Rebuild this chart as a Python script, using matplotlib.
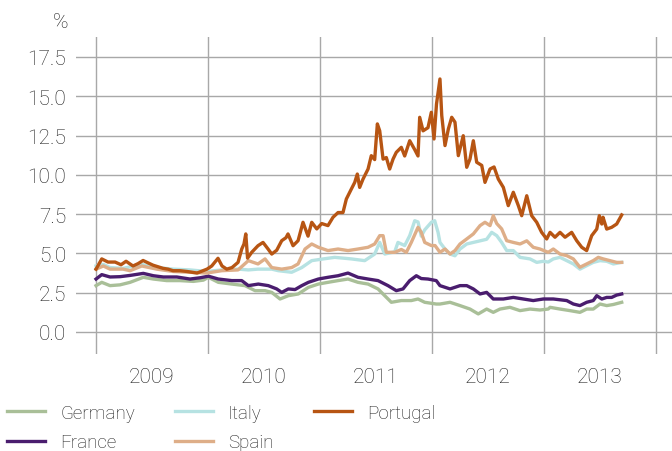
import matplotlib
matplotlib.use("Agg")
import matplotlib.pyplot as plt

plt.rcParams["font.family"] = ["Roboto", "DejaVu Sans"]

# ---- data (decimal year, % yield) ----
pt_t = [2009.000, 2009.051, 2009.107, 2009.170, 2009.223, 2009.268, 2009.330, 2009.375,
        2009.420, 2009.464, 2009.509, 2009.554, 2009.598, 2009.643, 2009.688, 2009.750,
        2009.813, 2009.857, 2009.902, 2009.955, 2009.991, 2010.033, 2010.089, 2010.125,
        2010.167, 2010.214, 2010.268, 2010.301, 2010.321, 2010.337, 2010.353, 2010.390,
        2010.446, 2010.491, 2010.536, 2010.569, 2010.613, 2010.658, 2010.696, 2010.714,
        2010.759, 2010.804, 2010.848, 2010.893, 2010.926, 2010.971, 2011.015, 2011.071,
        2011.116, 2011.161, 2011.205, 2011.235, 2011.280, 2011.310, 2011.333, 2011.354,
        2011.384, 2011.429, 2011.458, 2011.488, 2011.512, 2011.533, 2011.563, 2011.592,
        2011.622, 2011.652, 2011.681, 2011.726, 2011.756, 2011.801, 2011.846, 2011.875,
        2011.890, 2011.920, 2011.964, 2011.994, 2012.018, 2012.040, 2012.071, 2012.087,
        2012.116, 2012.146, 2012.176, 2012.205, 2012.235, 2012.279, 2012.310, 2012.339,
        2012.369, 2012.399, 2012.444, 2012.473, 2012.518, 2012.554, 2012.592, 2012.637,
        2012.681, 2012.726, 2012.771, 2012.801, 2012.846, 2012.890, 2012.935, 2012.979,
        2013.024, 2013.054, 2013.098, 2013.143, 2013.188, 2013.247, 2013.292, 2013.337,
        2013.381, 2013.426, 2013.471, 2013.494, 2013.516, 2013.527, 2013.560, 2013.604,
        2013.649, 2013.694]
portugal = [4.00, 4.65, 4.45, 4.45, 4.28, 4.50, 4.20, 4.35,
            4.55, 4.40, 4.25, 4.15, 4.05, 4.00, 3.90, 3.90,
            3.85, 3.80, 3.75, 3.90, 4.00, 4.20, 4.69, 4.20,
            4.00, 4.10, 4.43, 5.28, 5.60, 6.24, 4.70, 5.07,
            5.49, 5.70, 5.28, 4.96, 5.20, 5.81, 6.00, 6.24,
            5.49, 5.81, 6.98, 6.10, 6.98, 6.56, 6.90, 6.77,
            7.30, 7.60, 7.60, 8.46, 9.10, 9.52, 10.05, 9.20,
            9.73, 10.37, 11.22, 10.97, 13.24, 12.80, 11.00, 11.10,
            10.37, 11.00, 11.43, 11.75, 11.20, 12.17, 11.60, 11.20,
            13.66, 12.80, 13.00, 13.98, 12.28, 14.50, 16.10, 13.77,
            11.86, 12.92, 13.66, 13.35, 11.22, 12.49, 10.48, 11.00,
            12.17, 10.80, 10.60, 9.52, 10.37, 10.50, 9.73, 9.20,
            8.04, 8.89, 8.04, 7.40, 8.67, 7.40, 6.98, 6.34,
            5.92, 6.34, 6.03, 6.34, 6.03, 6.34, 5.81, 5.39,
            5.18, 6.13, 6.55, 7.40, 6.87, 7.30, 6.55, 6.66,
            6.87, 7.45]

es_t = [2009.000, 2009.065, 2009.125, 2009.241, 2009.304, 2009.408, 2009.542, 2009.688,
        2009.839, 2009.988, 2010.122, 2010.268, 2010.360, 2010.446, 2010.509, 2010.569,
        2010.658, 2010.747, 2010.804, 2010.866, 2010.926, 2010.982, 2011.071, 2011.161,
        2011.250, 2011.339, 2011.429, 2011.488, 2011.533, 2011.563, 2011.592, 2011.667,
        2011.726, 2011.771, 2011.815, 2011.875, 2011.904, 2011.935, 2011.994, 2012.027,
        2012.071, 2012.116, 2012.161, 2012.205, 2012.250, 2012.310, 2012.369, 2012.429,
        2012.473, 2012.518, 2012.547, 2012.578, 2012.622, 2012.667, 2012.726, 2012.786,
        2012.846, 2012.904, 2012.964, 2013.038, 2013.083, 2013.143, 2013.203, 2013.262,
        2013.321, 2013.381, 2013.440, 2013.485, 2013.529, 2013.589, 2013.649, 2013.694]
spain = [4.00, 4.20, 4.00, 4.00, 3.90, 4.20, 4.00, 3.85,
         3.80, 3.75, 3.90, 3.95, 4.54, 4.33, 4.65, 4.10,
         4.00, 4.10, 4.33, 5.28, 5.60, 5.40, 5.18, 5.28,
         5.18, 5.28, 5.39, 5.60, 6.13, 6.13, 5.07, 5.07,
         5.25, 5.07, 5.70, 6.66, 6.34, 5.70, 5.50, 5.50,
         5.07, 5.28, 4.96, 5.18, 5.60, 5.92, 6.24, 6.77,
         6.98, 6.77, 7.40, 6.90, 6.56, 5.81, 5.70, 5.60,
         5.80, 5.39, 5.28, 5.07, 5.28, 4.96, 4.86, 4.65,
         4.12, 4.33, 4.54, 4.75, 4.65, 4.54, 4.43, 4.43]

it_t = [2009.000, 2009.065, 2009.125, 2009.241, 2009.408, 2009.542, 2009.688, 2009.839,
        2009.988, 2010.122, 2010.268, 2010.360, 2010.446, 2010.569, 2010.628, 2010.747,
        2010.837, 2010.926, 2011.029, 2011.131, 2011.280, 2011.399, 2011.488, 2011.533,
        2011.578, 2011.667, 2011.696, 2011.756, 2011.801, 2011.846, 2011.875, 2011.904,
        2011.935, 2011.994, 2012.024, 2012.054, 2012.071, 2012.116, 2012.161, 2012.205,
        2012.250, 2012.310, 2012.369, 2012.429, 2012.488, 2012.533, 2012.578, 2012.622,
        2012.667, 2012.726, 2012.786, 2012.875, 2012.935, 2012.994, 2013.038, 2013.083,
        2013.143, 2013.203, 2013.262, 2013.321, 2013.381, 2013.440, 2013.500, 2013.560,
        2013.619, 2013.694]
italy = [4.20, 4.30, 4.10, 4.05, 4.30, 4.10, 4.00, 3.95,
         3.85, 3.95, 4.00, 3.95, 4.00, 4.00, 3.90, 3.80,
         4.10, 4.54, 4.65, 4.75, 4.65, 4.54, 4.96, 5.70,
         4.96, 5.10, 5.70, 5.50, 6.13, 7.08, 7.00, 6.10,
         6.50, 6.98, 7.08, 6.34, 5.70, 5.28, 4.96, 4.85,
         5.28, 5.60, 5.70, 5.80, 5.90, 6.34, 6.13, 5.70,
         5.18, 5.18, 4.75, 4.65, 4.43, 4.50, 4.45, 4.65,
         4.75, 4.54, 4.33, 4.00, 4.22, 4.43, 4.54, 4.50,
         4.33, 4.43]

fr_t = [2009.000, 2009.051, 2009.125, 2009.214, 2009.304, 2009.422, 2009.512, 2009.601,
        2009.721, 2009.839, 2009.929, 2010.003, 2010.092, 2010.212, 2010.301, 2010.360,
        2010.449, 2010.538, 2010.613, 2010.658, 2010.717, 2010.777, 2010.837, 2010.896,
        2010.985, 2011.071, 2011.161, 2011.250, 2011.339, 2011.429, 2011.518, 2011.607,
        2011.681, 2011.741, 2011.801, 2011.860, 2011.904, 2011.964, 2012.038, 2012.071,
        2012.161, 2012.250, 2012.310, 2012.369, 2012.429, 2012.488, 2012.547, 2012.637,
        2012.726, 2012.815, 2012.904, 2012.994, 2013.083, 2013.143, 2013.203, 2013.262,
        2013.321, 2013.381, 2013.440, 2013.471, 2013.516, 2013.560, 2013.604, 2013.649,
        2013.694]
france = [3.37, 3.65, 3.50, 3.52, 3.60, 3.73, 3.58, 3.50,
          3.50, 3.37, 3.45, 3.55, 3.37, 3.27, 3.27, 2.95,
          3.05, 2.95, 2.74, 2.52, 2.74, 2.70, 2.95, 3.16,
          3.37, 3.48, 3.58, 3.75, 3.48, 3.37, 3.27, 2.95,
          2.63, 2.74, 3.27, 3.58, 3.40, 3.37, 3.27, 2.95,
          2.74, 2.95, 2.95, 2.74, 2.42, 2.52, 2.10, 2.10,
          2.20, 2.10, 2.00, 2.10, 2.10, 2.05, 2.00, 1.78,
          1.68, 1.89, 2.00, 2.31, 2.10, 2.20, 2.20, 2.35,
          2.42]

de_t = [2009.000, 2009.051, 2009.125, 2009.214, 2009.304, 2009.422, 2009.512, 2009.631,
        2009.750, 2009.869, 2009.958, 2010.003, 2010.092, 2010.212, 2010.330, 2010.420,
        2010.509, 2010.569, 2010.643, 2010.717, 2010.806, 2010.896, 2010.985, 2011.071,
        2011.161, 2011.250, 2011.339, 2011.429, 2011.518, 2011.578, 2011.637, 2011.726,
        2011.815, 2011.875, 2011.935, 2012.038, 2012.071, 2012.161, 2012.250, 2012.339,
        2012.413, 2012.488, 2012.547, 2012.607, 2012.696, 2012.786, 2012.875, 2012.964,
        2013.038, 2013.054, 2013.143, 2013.232, 2013.321, 2013.381, 2013.440, 2013.500,
        2013.560, 2013.619, 2013.694]
germany = [2.95, 3.16, 2.95, 3.00, 3.16, 3.48, 3.37, 3.27,
           3.27, 3.22, 3.30, 3.48, 3.16, 3.05, 2.95, 2.63,
           2.63, 2.52, 2.10, 2.31, 2.42, 2.84, 3.05, 3.16,
           3.27, 3.37, 3.16, 3.05, 2.74, 2.31, 1.89, 2.00,
           2.00, 2.10, 1.89, 1.78, 1.78, 1.89, 1.68, 1.46,
           1.15, 1.46, 1.25, 1.46, 1.57, 1.36, 1.46, 1.40,
           1.46, 1.57, 1.46, 1.36, 1.25, 1.46, 1.46, 1.78,
           1.68, 1.75, 1.89]

years = [2009, 2010, 2011, 2012, 2013]
yticks = [0.0, 2.5, 5.0, 7.5, 10.0, 12.5, 15.0, 17.5]

col_de = "#a9bf98"
col_fr = "#4a1d6e"
col_it = "#b6e2e2"
col_es = "#deae88"
col_pt = "#b75513"
txt = "#1e1e1e"
grid_c = "#a8a8a8"

fig = plt.figure(figsize=(6.72, 4.52), dpi=100)
ax = fig.add_axes([76 / 672, 1 - 355 / 452, 596 / 672, 317 / 452])

lw = 2.4
l_de, = ax.plot(de_t, germany, color=col_de, lw=lw, label="Germany")
l_fr, = ax.plot(fr_t, france, color=col_fr, lw=lw, label="France")
l_it, = ax.plot(it_t, italy, color=col_it, lw=lw, label="Italy")
l_es, = ax.plot(es_t, spain, color=col_es, lw=lw, label="Spain")
l_pt, = ax.plot(pt_t, portugal, color=col_pt, lw=lw, label="Portugal")

ax.set_xlim(2008.821, 2014.143)
ax.set_ylim(-1.40, 18.77)

ax.set_yticks(yticks)
ax.set_yticklabels([f"{v:.1f}" for v in yticks])
ax.set_xticks(years + [2014])
ax.set_xticklabels([])
ax.set_xticks([y + 0.5 for y in years], minor=True)
ax.set_xticklabels([str(y) for y in years], minor=True)

ax.grid(True, which="major", color=grid_c, lw=1.0)
ax.set_axisbelow(True)
for s in ax.spines.values():
    s.set_visible(False)
ax.tick_params(axis="both", which="both", length=0, colors=txt, labelsize=15)
ax.tick_params(axis="y", pad=7)
ax.tick_params(axis="x", which="minor", pad=9.5)
for lab in ax.get_yticklabels() + ax.get_xticklabels(minor=True):
    lab.set_fontweight("light")

fig.text(68 / 672, 1 - 22 / 452, "%", ha="right", va="center",
         fontsize=15, color=txt, fontweight="light")

leg = fig.legend([l_de, l_fr, l_it, l_es, l_pt],
                 ["Germany", "France", "Italy", "Spain", "Portugal"],
                 ncol=3, loc="upper left", bbox_to_anchor=(7 / 672, 1 - 405 / 452),
                 frameon=False, borderaxespad=0, borderpad=0,
                 handlelength=2.03, handletextpad=0.8, columnspacing=2.15,
                 labelspacing=0.6, fontsize=13.5)
for t in leg.get_texts():
    t.set_color(txt)
    t.set_fontweight("light")

fig.savefig("out.png", dpi=100)
